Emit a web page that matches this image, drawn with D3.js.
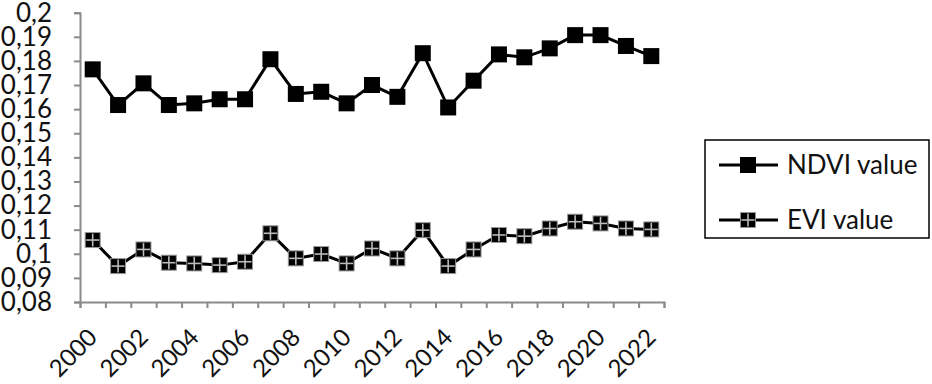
<!DOCTYPE html>
<html><head><meta charset="utf-8">
<script src="https://cdn.jsdelivr.net/npm/d3@7"></script>
<style>
html,body{margin:0;padding:0;background:#fff;}
svg text{font-family:Lato,"Open Sans",sans-serif;fill:#111;}
</style></head>
<body><svg id="chart" width="932" height="384"></svg>
<script>
const years = ["2000","2001","2002","2003","2004","2005","2006","2007","2008","2009","2010","2011","2012","2013","2014","2015","2016","2017","2018","2019","2020","2021","2022"];
const ndvi = [0.1765,0.1617,0.1707,0.1617,0.1624,0.1641,0.1641,0.1807,0.1663,0.1672,0.1624,0.1700,0.1651,0.1832,0.1607,0.1718,0.1827,0.1815,0.1852,0.1907,0.1907,0.1862,0.1820];
const evi = [0.1057,0.0949,0.1018,0.0963,0.0960,0.0953,0.0967,0.1085,0.0981,0.0999,0.0960,0.1022,0.0981,0.1098,0.0949,0.1018,0.1078,0.1073,0.1105,0.1133,0.1126,0.1105,0.1101];
const yTicks = [0.08,0.09,0.1,0.11,0.12,0.13,0.14,0.15,0.16,0.17,0.18,0.19,0.2];
const xLabels = ["2000","2002","2004","2006","2008","2010","2012","2014","2016","2018","2020","2022"];
const seriesNames = ["NDVI value","EVI value"];

const svg = d3.select("#chart");
const mLeft = 80, mRight = 664, mTop = 12.7, mBottom = 302;
const x = d3.scaleLinear().domain([0, years.length]).range([mLeft, mRight]);
const y = d3.scaleLinear().domain([0.08, 0.2]).range([mBottom, mTop]);
const fmt = v => String(+v.toFixed(2)).replace(".", ",");
const axisColor = "#8a8a8a";

// y axis
const gy = svg.append("g").attr("transform", `translate(${mLeft},0)`)
  .call(d3.axisLeft(y).tickValues(yTicks).tickFormat(fmt).tickSize(6).tickPadding(22));
gy.select(".domain").attr("stroke", axisColor).attr("stroke-width", 2);
gy.selectAll(".tick line").attr("stroke", axisColor).attr("stroke-width", 2);
gy.selectAll("text").attr("font-size", 26).attr("font-family", "Lato").attr("fill", "#111");

// x axis
const gx = svg.append("g").attr("transform", `translate(0,${mBottom})`)
  .call(d3.axisBottom(x).tickValues(d3.range(0, years.length + 1)).tickFormat("").tickSize(6));
gx.select(".domain").attr("stroke", axisColor).attr("stroke-width", 2);
gx.selectAll(".tick line").attr("stroke", axisColor).attr("stroke-width", 2);

svg.append("g").selectAll("text").data(xLabels).join("text")
  .attr("transform", d => `translate(${x(years.indexOf(d) + 0.5) + 6},${mBottom + 37}) rotate(-45)`)
  .attr("text-anchor", "end")
  .attr("font-size", 24).text(d => d);

const line = d3.line().x((d, i) => x(i + 0.5)).y(d => y(d));

function drawMarkers(g, pts, type) {
  if (type === "ndvi") {
    const s = 16;
    g.selectAll(null).data(pts).join("rect")
      .attr("x", d => d[0] - s / 2).attr("y", d => d[1] - s / 2).attr("width", s).attr("height", s)
      .attr("fill", "#000");
  } else {
    const s = 15;
    const m = g.selectAll(null).data(pts).join("g")
      .attr("transform", d => `translate(${d[0]},${d[1]})`);
    m.append("rect").attr("x", -s / 2).attr("y", -s / 2).attr("width", s).attr("height", s)
      .attr("fill", "#000").attr("stroke", "#999").attr("stroke-width", 1);
    m.append("line").attr("x1", -s / 2 + 1).attr("x2", s / 2 - 1).attr("y1", 0).attr("y2", 0).attr("stroke", "#bbb").attr("stroke-width", 1.6);
    m.append("line").attr("y1", -s / 2 + 1).attr("y2", s / 2 - 1).attr("x1", 0).attr("x2", 0).attr("stroke", "#bbb").attr("stroke-width", 1.6);
  }
}
function drawSeries(vals, type) {
  const g = svg.append("g");
  g.append("path").datum(vals).attr("d", line).attr("fill", "none").attr("stroke", "#000").attr("stroke-width", 3);
  drawMarkers(g, vals.map((v, i) => [x(i + 0.5), y(v)]), type);
}
drawSeries(ndvi, "ndvi");
drawSeries(evi, "evi");

// legend
const lg = svg.append("g");
lg.append("rect").attr("x", 705).attr("y", 140).attr("width", 224).attr("height", 98)
  .attr("fill", "#fff").attr("stroke", "#000").attr("stroke-width", 1.5);
const legendRows = [{name: seriesNames[0], type: "ndvi", cy: 165}, {name: seriesNames[1], type: "evi", cy: 220}];
legendRows.forEach(r => {
  lg.append("line").attr("x1", 719).attr("x2", 778).attr("y1", r.cy).attr("y2", r.cy).attr("stroke", "#000").attr("stroke-width", 3);
  drawMarkers(lg.append("g"), [[748, r.cy]], r.type);
  lg.append("text").attr("x", 787).attr("y", r.cy).attr("dy", "0.35em").attr("font-size", 26).text(r.name);
});
</script></body></html>
